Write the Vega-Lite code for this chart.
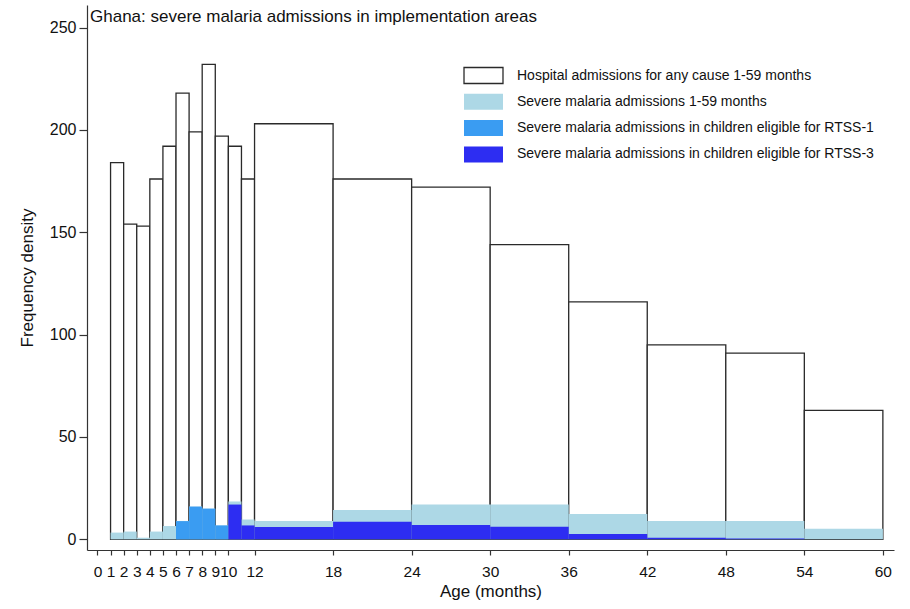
{
  "$schema": "https://vega.github.io/schema/vega-lite/v6.json",
  "autosize": {"type": "none"},
  "width": 807,
  "height": 545,
  "padding": {"left": 87, "top": 5, "right": 16, "bottom": 59},
  "background": "white",
  "title": {
    "text": "Ghana: severe malaria admissions in implementation areas",
    "anchor": "start",
    "frame": "group",
    "orient": "top",
    "offset": -21,
    "dx": 3,
    "fontSize": 17,
    "fontWeight": "normal",
    "font": "Liberation Sans",
    "color": "#111"
  },
  "config": {
    "view": {"stroke": null},
    "font": "Liberation Sans",
    "axis": {
      "grid": false,
      "domainColor": "#333",
      "tickColor": "#333",
      "domainWidth": 1.2,
      "tickWidth": 1.2,
      "labelFont": "Liberation Sans",
      "labelColor": "#111",
      "titleFont": "Liberation Sans",
      "titleFontSize": 17,
      "titleFontWeight": "normal",
      "titleColor": "#111"
    },
    "legend": {
      "orient": "none",
      "legendX": 386,
      "legendY": 60,
      "title": null,
      "labelFont": "Liberation Sans",
      "labelFontSize": 14,
      "labelColor": "#111",
      "symbolType": "M-2,-0.82H2V0.82H-2Z",
      "symbolSize": 380,
      "symbolStrokeWidth": 1.3,
      "labelOffset": 23,
      "rowPadding": 3.3,
      "labelLimit": 500
    }
  },
  "data": {
    "values": [
      {"series": "Hospital admissions for any cause 1-59 months", "start": 1, "end": 2, "value": 184},
      {"series": "Hospital admissions for any cause 1-59 months", "start": 2, "end": 3, "value": 154},
      {"series": "Hospital admissions for any cause 1-59 months", "start": 3, "end": 4, "value": 153},
      {"series": "Hospital admissions for any cause 1-59 months", "start": 4, "end": 5, "value": 176},
      {"series": "Hospital admissions for any cause 1-59 months", "start": 5, "end": 6, "value": 192},
      {"series": "Hospital admissions for any cause 1-59 months", "start": 6, "end": 7, "value": 218},
      {"series": "Hospital admissions for any cause 1-59 months", "start": 7, "end": 8, "value": 199},
      {"series": "Hospital admissions for any cause 1-59 months", "start": 8, "end": 9, "value": 232},
      {"series": "Hospital admissions for any cause 1-59 months", "start": 9, "end": 10, "value": 197},
      {"series": "Hospital admissions for any cause 1-59 months", "start": 10, "end": 11, "value": 192},
      {"series": "Hospital admissions for any cause 1-59 months", "start": 11, "end": 12, "value": 176},
      {"series": "Hospital admissions for any cause 1-59 months", "start": 12, "end": 18, "value": 203},
      {"series": "Hospital admissions for any cause 1-59 months", "start": 18, "end": 24, "value": 176},
      {"series": "Hospital admissions for any cause 1-59 months", "start": 24, "end": 30, "value": 172},
      {"series": "Hospital admissions for any cause 1-59 months", "start": 30, "end": 36, "value": 144},
      {"series": "Hospital admissions for any cause 1-59 months", "start": 36, "end": 42, "value": 116},
      {"series": "Hospital admissions for any cause 1-59 months", "start": 42, "end": 48, "value": 95},
      {"series": "Hospital admissions for any cause 1-59 months", "start": 48, "end": 54, "value": 91},
      {"series": "Hospital admissions for any cause 1-59 months", "start": 54, "end": 60, "value": 63},
      {"series": "Severe malaria admissions 1-59 months", "start": 1, "end": 2, "value": 3.3},
      {"series": "Severe malaria admissions 1-59 months", "start": 2, "end": 3, "value": 3.8},
      {"series": "Severe malaria admissions 1-59 months", "start": 3, "end": 4, "value": 0.8},
      {"series": "Severe malaria admissions 1-59 months", "start": 4, "end": 5, "value": 3.8},
      {"series": "Severe malaria admissions 1-59 months", "start": 5, "end": 6, "value": 6.5},
      {"series": "Severe malaria admissions 1-59 months", "start": 6, "end": 7, "value": 9},
      {"series": "Severe malaria admissions 1-59 months", "start": 7, "end": 8, "value": 16},
      {"series": "Severe malaria admissions 1-59 months", "start": 8, "end": 9, "value": 15},
      {"series": "Severe malaria admissions 1-59 months", "start": 9, "end": 10, "value": 6.8},
      {"series": "Severe malaria admissions 1-59 months", "start": 10, "end": 11, "value": 18.5},
      {"series": "Severe malaria admissions 1-59 months", "start": 11, "end": 12, "value": 9.7},
      {"series": "Severe malaria admissions 1-59 months", "start": 12, "end": 18, "value": 9},
      {"series": "Severe malaria admissions 1-59 months", "start": 18, "end": 24, "value": 14.3},
      {"series": "Severe malaria admissions 1-59 months", "start": 24, "end": 30, "value": 17},
      {"series": "Severe malaria admissions 1-59 months", "start": 30, "end": 36, "value": 17},
      {"series": "Severe malaria admissions 1-59 months", "start": 36, "end": 42, "value": 12.4},
      {"series": "Severe malaria admissions 1-59 months", "start": 42, "end": 48, "value": 9},
      {"series": "Severe malaria admissions 1-59 months", "start": 48, "end": 54, "value": 9},
      {"series": "Severe malaria admissions 1-59 months", "start": 54, "end": 60, "value": 5.2},
      {"series": "Severe malaria admissions in children eligible for RTSS-1", "start": 6, "end": 7, "value": 8.9},
      {"series": "Severe malaria admissions in children eligible for RTSS-1", "start": 7, "end": 8, "value": 16},
      {"series": "Severe malaria admissions in children eligible for RTSS-1", "start": 8, "end": 9, "value": 15},
      {"series": "Severe malaria admissions in children eligible for RTSS-1", "start": 9, "end": 10, "value": 6.8},
      {"series": "Severe malaria admissions in children eligible for RTSS-3", "start": 10, "end": 11, "value": 17},
      {"series": "Severe malaria admissions in children eligible for RTSS-3", "start": 11, "end": 12, "value": 6.8},
      {"series": "Severe malaria admissions in children eligible for RTSS-3", "start": 12, "end": 18, "value": 6},
      {"series": "Severe malaria admissions in children eligible for RTSS-3", "start": 18, "end": 24, "value": 8.6},
      {"series": "Severe malaria admissions in children eligible for RTSS-3", "start": 24, "end": 30, "value": 7},
      {"series": "Severe malaria admissions in children eligible for RTSS-3", "start": 30, "end": 36, "value": 6.2},
      {"series": "Severe malaria admissions in children eligible for RTSS-3", "start": 36, "end": 42, "value": 2.6},
      {"series": "Severe malaria admissions in children eligible for RTSS-3", "start": 42, "end": 48, "value": 0.8},
      {"series": "Severe malaria admissions in children eligible for RTSS-3", "start": 48, "end": 54, "value": 0.4}
    ]
  },
  "mark": {"type": "bar", "strokeWidth": 1.3, "strokeJoin": "miter"},
  "encoding": {
    "x": {
      "field": "start",
      "type": "quantitative",
      "scale": {"domain": [-0.8, 60.85], "nice": false, "zero": false},
      "axis": {
        "title": "Age (months)",
        "values": [0, 1, 2, 3, 4, 5, 6, 7, 8, 9, 10, 12, 18, 24, 30, 36, 42, 48, 54, 60],
        "tickSize": 5,
        "labelFontSize": 15.5,
        "labelPadding": 9,
        "titlePadding": 4,
        "labelFlush": false,
        "labelOverlap": false
      }
    },
    "x2": {"field": "end"},
    "y": {
      "field": "value",
      "type": "quantitative",
      "scale": {"domain": [-5.2, 261], "nice": false, "zero": false},
      "axis": {
        "title": "Frequency density",
        "values": [0, 50, 100, 150, 200, 250],
        "tickSize": 8,
        "labelFontSize": 16,
        "labelPadding": 3,
        "titlePadding": 13
      }
    },
    "y2": {"datum": 0},
    "fill": {
      "field": "series",
      "type": "nominal",
      "scale": {
        "domain": [
          "Hospital admissions for any cause 1-59 months",
          "Severe malaria admissions 1-59 months",
          "Severe malaria admissions in children eligible for RTSS-1",
          "Severe malaria admissions in children eligible for RTSS-3"
        ],
        "range": ["#ffffff", "#add8e6", "#3a9cf2", "#2d2df2"]
      }
    },
    "stroke": {
      "field": "series",
      "type": "nominal",
      "scale": {
        "domain": [
          "Hospital admissions for any cause 1-59 months",
          "Severe malaria admissions 1-59 months",
          "Severe malaria admissions in children eligible for RTSS-1",
          "Severe malaria admissions in children eligible for RTSS-3"
        ],
        "range": ["#2a2a2a", "transparent", "transparent", "transparent"]
      }
    }
  }
}
